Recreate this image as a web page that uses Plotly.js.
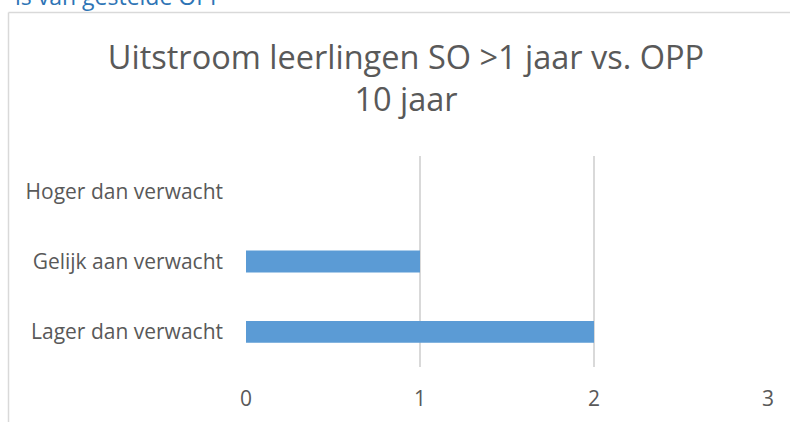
<!DOCTYPE html>
<html>
<head>
<meta charset="utf-8">
<script src="https://cdn.plot.ly/plotly-3.0.1.min.js"></script>
<style>html,body{margin:0;padding:0;background:#fff;}#chart{width:790px;height:422px;}</style>
</head>
<body>
<div id="chart"></div>
<script>
const categories = ["Lager dan verwacht", "Gelijk aan verwacht", "Hoger dan verwacht"];
const values = [2, 1, 0];
const xTicks = [0, 1, 2, 3];
const chartTitle = "Uitstroom leerlingen SO >1 jaar vs. OPP<br>10 jaar";
const headingText = "is van gestelde OPP";

const W = 790, H = 422;
const L = 246, R = 768, T = 156, B = 367;
const px = x => (x - L) / (R - L);
const py = y => (B - y) / (B - T);

const trace = {
  type: 'bar',
  orientation: 'h',
  y: categories,
  x: values,
  width: 0.31,
  marker: {color: '#5b9bd5'},
  hoverinfo: 'none'
};

const layout = {
  width: W, height: H,
  margin: {l: L, r: W - R, t: T, b: H - B, pad: 0},
  paper_bgcolor: '#ffffff',
  plot_bgcolor: '#ffffff',
  font: {family: 'Open Sans, sans-serif', color: '#595959'},
  showlegend: false,
  title: {
    text: chartTitle,
    font: {family: 'Open Sans, sans-serif', size: 32.5, color: '#595959'},
    x: 406 / W, xanchor: 'center', xref: 'container',
    y: 1 - 69 / H, yanchor: 'middle', yref: 'container'
  },
  xaxis: {
    range: [0, 3],
    tickvals: xTicks,
    ticktext: xTicks.map(String),
    showgrid: true, gridcolor: '#d9d9d9', gridwidth: 1.3,
    zeroline: false, showline: false,
    ticks: '', ticklabelstandoff: 17,
    tickfont: {size: 21, color: '#595959'},
    fixedrange: true
  },
  yaxis: {
    categoryorder: 'array', categoryarray: categories,
    range: [-0.5, 2.5],
    showgrid: false, zeroline: false, showline: false,
    ticks: '', ticklabelstandoff: 22,
    tickfont: {size: 21, color: '#595959'},
    fixedrange: true
  },
  shapes: [
    {type: 'line', xref: 'paper', yref: 'paper', x0: px(8.5), x1: px(8.5), y0: py(12.5), y1: py(440), line: {color: '#d9d9d9', width: 1.5}},
    {type: 'line', xref: 'paper', yref: 'paper', x0: px(8.5), x1: px(800), y0: py(12.5), y1: py(12.5), line: {color: '#d9d9d9', width: 1.5}}
  ],
  annotations: [
    {text: headingText, xref: 'paper', yref: 'paper', x: px(226), y: py(-4), xanchor: 'right', yanchor: 'middle',
     showarrow: false, font: {family: 'Open Sans, sans-serif', size: 23, color: '#2e74b5'}}
  ]
};

Plotly.newPlot('chart', [trace], layout, {displayModeBar: false, staticPlot: true});
</script>
</body>
</html>
